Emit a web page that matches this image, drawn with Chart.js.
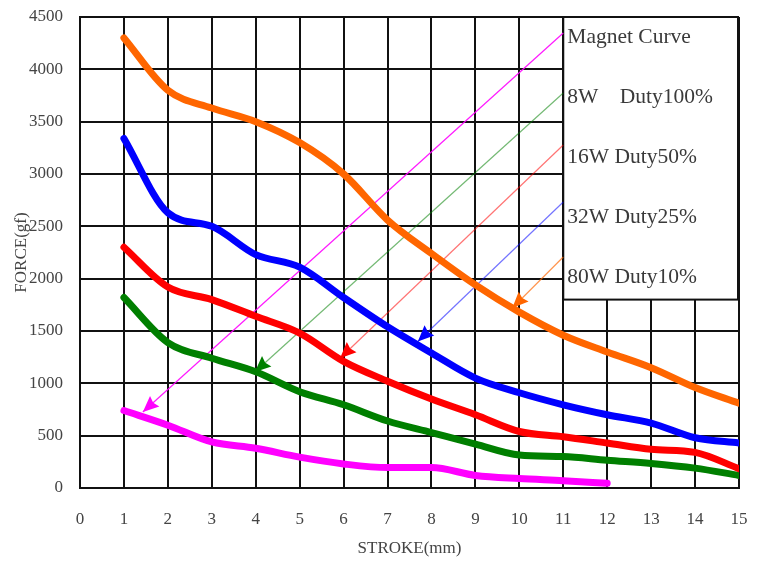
<!DOCTYPE html>
<html><head><meta charset="utf-8">
<script src="https://cdn.jsdelivr.net/npm/chart.js@4.4.1/dist/chart.umd.min.js"></script>
<style>html,body{margin:0;padding:0;background:#fff;} canvas{display:block;}</style>
</head><body>
<canvas id="c" width="757" height="561"></canvas>
<script>
// ---- data ----
const strokeMm = [1,2,3,4,5,6,7,8,9,10,11,12,13,14,15];
const magnetCurve = [740,600,440,380,295,230,195,195,120,90,70,45];
const w8Duty100  = [1820,1390,1240,1110,920,795,640,530,420,315,300,265,235,190,120];
const w16Duty50  = [2300,1920,1800,1640,1480,1210,1020,850,700,540,490,430,370,340,185];
const w32Duty25  = [3340,2630,2500,2230,2110,1820,1540,1290,1050,910,795,700,620,480,430];
const w80Duty10  = [4300,3800,3630,3500,3300,3000,2560,2240,1940,1680,1460,1300,1150,960,810];
const legendLabels = ['Magnet Curve','8W    Duty100%','16W Duty50%','32W Duty25%','80W Duty10%'];
// pointer arrows: [start(x,y), tip(x,y)] in data units
const arrowMagnet = [[11.0,4347],[1.43,726]];
const arrow8W  = [[11.0,3774],[3.98,1108]];
const arrow16W = [[11.0,3277],[5.92,1240]];
const arrow32W = [[11.0,2732],[7.69,1400]];
const arrow80W = [[11.0,2207],[9.84,1720]];

const pts = (ys) => ys.map((v,i)=>({x:strokeMm[i], y:v}));
const arr = (a) => a.map(p=>({x:p[0], y:p[1]}));

const curve = (label, ys, color) => ({
  label, data: pts(ys), borderColor: color, borderWidth: 7, pointRadius: 0,
  cubicInterpolationMode: 'monotone', borderCapStyle: 'round', borderJoinStyle: 'round', fill: false
});
const arrowDs = (a, color, head) => ({
  label: 'arrow', data: arr(a), borderColor: color, borderWidth: 1.2, pointRadius: 0,
  tension: 0, fill: false, headColor: head, isArrow: true
});

const serif = '"Liberation Serif", "Times New Roman", serif';

const overlay = {
  id: 'overlay',
  beforeDatasetsDraw(chart) {
    const {ctx, scales:{x, y}} = chart;
    const l = x.getPixelForValue(11), r = x.getPixelForValue(15) - 1;
    const t = y.getPixelForValue(4500), b = y.getPixelForValue(1800);
    ctx.save();
    ctx.fillStyle = '#fff';
    ctx.fillRect(l, t, r - l, b - t);
    ctx.strokeStyle = '#111'; ctx.lineWidth = 2;
    ctx.strokeRect(l, t, r - l, b - t);
    ctx.font = '21.5px ' + serif;
    ctx.fillStyle = '#3a3a3a'; ctx.textBaseline = 'middle'; ctx.textAlign = 'left';
    legendLabels.forEach((s, i) => ctx.fillText(s, l + 4, t + 20 + i * 60));
    ctx.restore();
  },
  afterDatasetsDraw(chart) {
    const ctx = chart.ctx;
    chart.data.datasets.forEach((ds, i) => {
      if (!ds.isArrow) return;
      const m = chart.getDatasetMeta(i).data;
      const s = m[0], e = m[1];
      const ang = Math.atan2(e.y - s.y, e.x - s.x);
      const L = 16, W = 7;
      ctx.save();
      ctx.fillStyle = ds.headColor;
      ctx.translate(e.x, e.y); ctx.rotate(ang);
      ctx.beginPath();
      ctx.moveTo(0, 0); ctx.lineTo(-L, -W); ctx.lineTo(-L + 2, 0); ctx.lineTo(-L, W);
      ctx.closePath(); ctx.fill();
      ctx.restore();
    });
  }
};

const noPad = (s) => { s.paddingTop = 0; s.paddingBottom = 0; s.paddingLeft = 0; s.paddingRight = 0; };

new Chart(document.getElementById('c'), {
  type: 'line',
  data: {
    datasets: [
      curve('80W Duty10%', w80Duty10, '#ff6600'),
      curve('32W Duty25%', w32Duty25, '#0000ff'),
      curve('16W Duty50%', w16Duty50, '#ff0000'),
      curve('8W Duty100%', w8Duty100, '#007f00'),
      curve('Magnet Curve', magnetCurve, '#ff00ff'),
      arrowDs(arrowMagnet, 'rgba(255,0,255,0.9)', '#ff00ff'),
      arrowDs(arrow8W, 'rgba(0,128,0,0.55)', '#008000'),
      arrowDs(arrow16W, 'rgba(255,0,0,0.55)', '#ff0000'),
      arrowDs(arrow32W, 'rgba(0,0,255,0.55)', '#0000ff'),
      arrowDs(arrow80W, 'rgba(255,102,0,0.7)', '#ff6600')
    ]
  },
  options: {
    responsive: false, animation: false,
    layout: { padding: { top: 17, right: 18, left: 0, bottom: 0 } },
    plugins: { legend: { display: false }, tooltip: { enabled: false } },
    scales: {
      x: {
        type: 'linear', min: 0, max: 15,
        ticks: { stepSize: 1, padding: 21, color: '#444', font: { family: serif, size: 17 }, callback: (v) => String(v) },
        grid: { color: '#111', lineWidth: 2, drawTicks: false },
        border: { color: '#111', width: 2 },
        title: { display: true, text: 'STROKE(mm)', color: '#444', font: { family: serif, size: 17 }, padding: { top: 0, bottom: 2 } },
        afterFit: (s) => { s.height = 73; noPad(s); }
      },
      y: {
        type: 'linear', min: 0, max: 4500,
        ticks: { stepSize: 500, padding: 17, color: '#444', font: { family: serif, size: 17 }, callback: (v) => String(v) },
        grid: { color: '#111', lineWidth: 2, drawTicks: false },
        border: { color: '#111', width: 2 },
        title: { display: true, text: 'FORCE(gf)', color: '#444', font: { family: serif, size: 17 }, padding: { top: 11, bottom: 0 } },
        afterFit: (s) => { s.width = 80; noPad(s); }
      }
    }
  },
  plugins: [overlay]
});
</script>
</body></html>
